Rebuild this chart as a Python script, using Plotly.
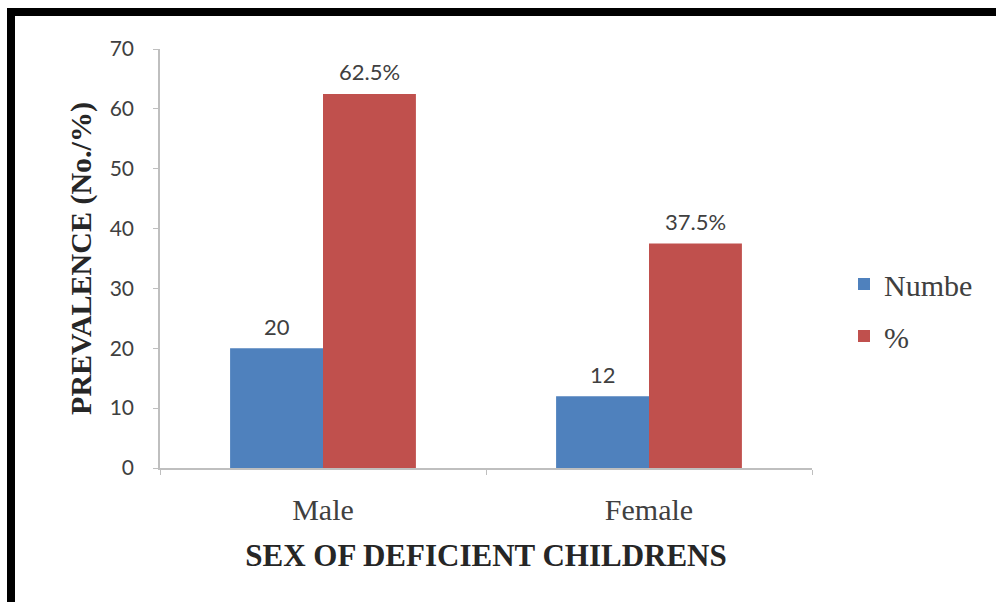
import plotly.graph_objects as go

# Data
categories = ["Male", "Female"]
number_values = [20, 12]
percent_values = [62.5, 37.5]
series_names = ["Numbe", "%"]
number_labels = [f"{v:g}" for v in number_values]
percent_labels = [f"{v:g}%" for v in percent_values]

W, H = 996, 602
M_L, M_R, M_T, M_B = 160, 184, 49, 134
PW, PH = W - M_L - M_R, H - M_T - M_B
BARGAP = 0.43
BAR_PX = PW / len(categories) * (1 - BARGAP) / 2  # width of one bar in pixels

BLUE = "#4F81BD"
RED = "#C0504D"
SERIF = "Liberation Serif, Times New Roman, serif"
SANS = "Lato, Liberation Sans, sans-serif"
LABEL_FONT = dict(family=SANS, size=22, color="#404040")


def px_x(x):
    return (x - M_L) / PW


def px_y(y):
    return (H - M_B - y) / PH


fig = go.Figure()
fig.add_trace(go.Bar(
    x=categories, y=number_values, name=series_names[0],
    marker=dict(color=BLUE, line=dict(width=0)),
    legendgroup="a",
))
fig.add_trace(go.Bar(
    x=categories, y=percent_values, name=series_names[1],
    marker=dict(color=RED, line=dict(width=0)),
    legendgroup="b",
))

# Value labels above each bar
for cat, v, lab in zip(categories, number_values, number_labels):
    fig.add_annotation(x=cat, y=v, text=lab, showarrow=False,
                       xshift=-BAR_PX / 2, yshift=22, yanchor="middle",
                       font=LABEL_FONT)
for cat, v, lab in zip(categories, percent_values, percent_labels):
    fig.add_annotation(x=cat, y=v, text=lab, showarrow=False,
                       xshift=BAR_PX / 2, yshift=22, yanchor="middle",
                       font=LABEL_FONT)

# Black frame along the top and left edges
fig.add_shape(type="rect", xref="paper", yref="paper",
              x0=px_x(7), x1=px_x(15), y0=px_y(H + 5), y1=px_y(8),
              fillcolor="black", line=dict(width=0), layer="above")
fig.add_shape(type="rect", xref="paper", yref="paper",
              x0=px_x(7), x1=px_x(W + 5), y0=px_y(16), y1=px_y(8),
              fillcolor="black", line=dict(width=0), layer="above")

fig.update_layout(
    width=W, height=H,
    margin=dict(l=M_L, r=M_R, t=M_T, b=M_B, autoexpand=False),
    paper_bgcolor="white", plot_bgcolor="white",
    barmode="group", bargap=BARGAP, bargroupgap=0,
    showlegend=True,
    legend=dict(
        x=px_x(844), y=px_y(258), xanchor="left", yanchor="top",
        font=dict(family=SERIF, size=30, color="#404040"),
        tracegroupgap=10, itemwidth=30,
        bgcolor="rgba(0,0,0,0)",
    ),
    xaxis=dict(
        showline=True, linecolor="#BFBFBF", linewidth=1.5,
        ticks="outside", tickson="boundaries", ticklen=5, tickcolor="#BFBFBF",
        tickfont=dict(family=SERIF, size=30, color="#404040"),
        ticklabelstandoff=14,
        title=dict(text="<b>SEX OF DEFICIENT CHILDRENS</b>",
                   font=dict(family=SERIF, size=31, color="#262626"),
                   standoff=20),
        showgrid=False,
    ),
    yaxis=dict(
        range=[0, 70], dtick=10,
        showline=True, linecolor="#BFBFBF", linewidth=1.5,
        ticks="outside", ticklen=5, tickcolor="#BFBFBF",
        tickfont=dict(family=SANS, size=21, color="#404040"),
        ticklabelstandoff=15,
        title=dict(text="<b>PREVALENCE (No./%)</b>",
                   font=dict(family=SERIF, size=30, color="#262626"),
                   standoff=9),
        showgrid=False, zeroline=False,
    ),
)

fig.write_html("out.html")
